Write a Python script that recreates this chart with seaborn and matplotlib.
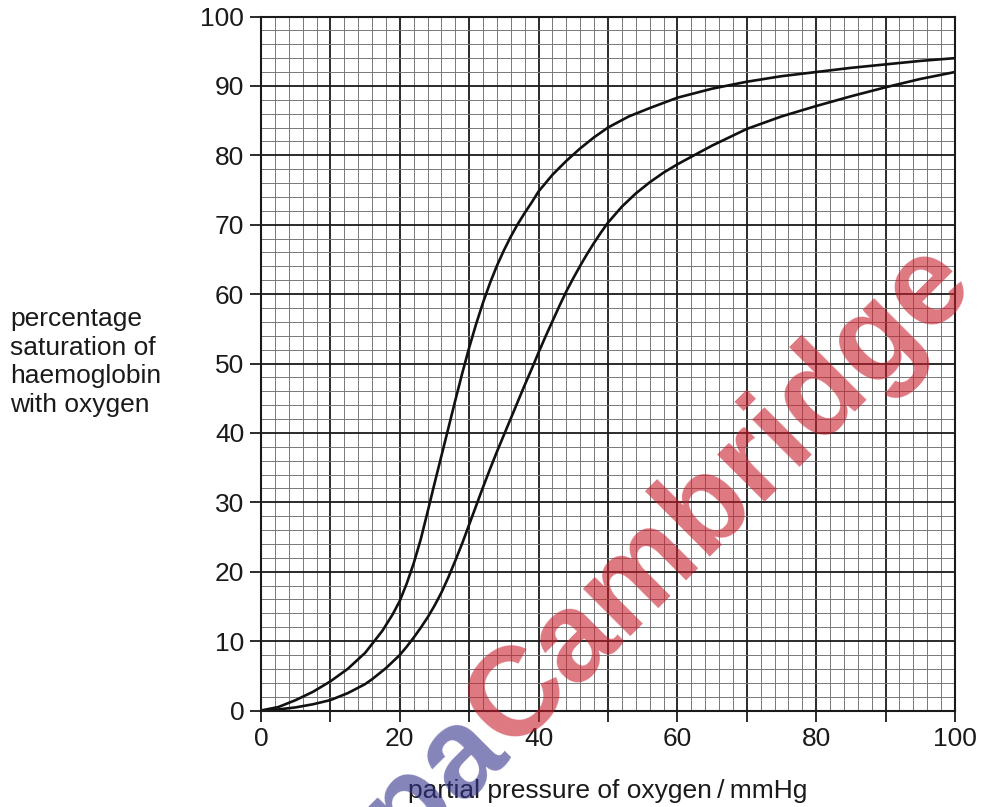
import matplotlib
matplotlib.use("Agg")
import matplotlib.pyplot as plt
import matplotlib.ticker as mticker
import seaborn as sns
import numpy as np

# values (partial pressure / mmHg, saturation / %)
upper_x = [0, 2.5, 5, 7.5, 10, 12.5, 15, 17.5, 19, 20, 21, 22, 23, 24, 25, 26, 27, 28,
           29, 30, 31, 32, 33, 34, 35, 36, 37, 38, 39, 40, 42, 44, 46, 48, 50, 53, 56,
           60, 65, 70, 75, 80, 85, 90, 95, 100]
upper_y = [0, 0.5, 1.5, 2.7, 4.2, 6.0, 8.3, 11.5, 13.9, 15.8, 18.3, 21.2, 24.6, 28.6,
           32.7, 36.7, 40.7, 44.7, 48.6, 52.3, 55.7, 58.8, 61.6, 64.1, 66.3, 68.3, 70.1,
           71.7, 73.2, 74.8, 77.2, 79.2, 81.0, 82.6, 84.0, 85.6, 86.8, 88.3, 89.6, 90.6,
           91.4, 92.0, 92.6, 93.1, 93.6, 94.0]

lower_x = [0, 2.5, 5, 7.5, 10, 12.5, 15, 16, 18, 20, 21, 22, 23, 24, 25, 26, 27, 28, 29,
           30, 31, 32, 33, 34, 35, 36, 37, 38, 39, 40, 41, 42, 43, 44, 45, 46, 47, 48,
           49, 50, 52, 54, 56, 58, 60, 62.4, 65, 70, 75, 80, 85, 90, 95, 100]
lower_y = [0, 0.15, 0.45, 0.9, 1.5, 2.5, 3.8, 4.5, 6.1, 8.0, 9.2, 10.5, 11.9, 13.4, 15.1,
           17.0, 19.2, 21.6, 24.1, 26.8, 29.5, 32.2, 34.8, 37.3, 39.7, 42.1, 44.5, 46.9,
           49.2, 51.6, 53.9, 56.1, 58.3, 60.4, 62.3, 64.1, 65.8, 67.4, 68.9, 70.3, 72.6,
           74.5, 76.1, 77.5, 78.7, 80.0, 81.4, 83.8, 85.6, 87.1, 88.5, 89.8, 91.0, 92.0]

x_ticks = [0, 20, 40, 60, 80, 100]
y_ticks = [0, 10, 20, 30, 40, 50, 60, 70, 80, 90, 100]

sns.set_theme(style="white")
plt.rcParams["font.family"] = ["Liberation Sans", "DejaVu Sans"]
plt.rcParams["text.color"] = "#1a1a1a"
plt.rcParams["axes.labelcolor"] = "#1a1a1a"
plt.rcParams["xtick.color"] = "#1a1a1a"
plt.rcParams["ytick.color"] = "#1a1a1a"

fig = plt.figure(figsize=(9.81, 8.07), dpi=100)
ax = fig.add_axes([261 / 981, 1 - 710.5 / 807, 694 / 981, 694 / 807])

# graph paper
ax.xaxis.set_major_locator(mticker.MultipleLocator(10))
ax.yaxis.set_major_locator(mticker.MultipleLocator(10))
ax.xaxis.set_minor_locator(mticker.MultipleLocator(2))
ax.yaxis.set_minor_locator(mticker.MultipleLocator(2))
ax.grid(which="minor", color="#787878", linewidth=0.7)
ax.grid(which="major", color="#1a1a1a", linewidth=1.3)
ax.set_axisbelow(True)

sns.lineplot(x=upper_x, y=upper_y, color="#111111", linewidth=1.9, sort=False,
             estimator=None, ax=ax)
sns.lineplot(x=lower_x, y=lower_y, color="#111111", linewidth=1.9, sort=False,
             estimator=None, ax=ax)

ax.set_xlim(0, 100)
ax.set_ylim(0, 100)
ax.set_xticks(range(0, 101, 10))
ax.set_xticklabels([str(v) if v in x_ticks else "" for v in range(0, 101, 10)])
ax.set_yticks(y_ticks)
for t in ax.xaxis.get_major_ticks()[1::2]:
    t.tick1line.set_visible(False)
ax.tick_params(which="major", direction="out", length=8, width=1.3, color="#1a1a1a",
               labelsize=19, pad=4, bottom=True, left=True)
ax.tick_params(which="minor", length=0)
for s in ax.spines.values():
    s.set_color("#1a1a1a")
    s.set_linewidth(1.5)

ax.set_xlabel("partial pressure of oxygen\u2009/\u2009mmHg", fontsize=19, labelpad=20)
ax.set_ylabel("percentage\nsaturation of\nhaemoglobin\nwith oxygen", fontsize=19,
              rotation=0, ha="left", va="center", linespacing=1.25)
ax.yaxis.set_label_coords((10 - 261) / 694, 0.502)

# watermark
fig.text(510 / 981, 1 - 752 / 807, "Cambridge", color="#c81e2d", alpha=0.6,
         fontsize=91, fontweight="bold", rotation=45, rotation_mode="anchor",
         ha="left", va="baseline", zorder=10)
fig.text(510 / 981, 1 - 752 / 807, "Papa", color="#32328c", alpha=0.6,
         fontsize=91, fontweight="bold", rotation=45, rotation_mode="anchor",
         ha="right", va="baseline", zorder=10)

fig.savefig("out.png", dpi=100)
